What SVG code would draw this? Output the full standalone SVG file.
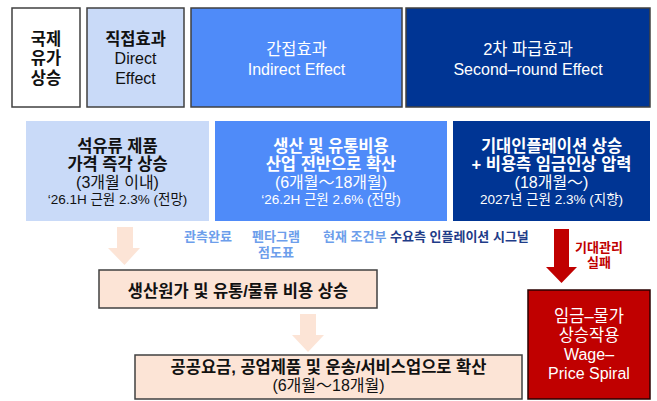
<svg xmlns="http://www.w3.org/2000/svg" width="657" height="401" viewBox="0 0 657 401">
<style>
text{font-family:"Liberation Sans","Noto Sans CJK KR",sans-serif;text-anchor:middle}
.t{font-size:16px}
.h{font-size:16.5px}
.b{font-weight:bold}
.s{font-size:13.5px}
.w{fill:#ffffff}
.k{fill:#111111}
.box{stroke:#404040;stroke-width:1.5}
.lb{font-size:13px;font-weight:bold;fill:#6d9eeb}
.nv{fill:#1f3c88}
.rd{font-size:13px;font-weight:bold;fill:#c00000}
</style>
<rect width="657" height="401" fill="#ffffff"/>
<g id="n-oil">
<rect class="box" x="12" y="8" width="68" height="99" fill="#ffffff"/>
<text class="h b k" x="46" y="45">국제</text>
<text class="h b k" x="46" y="64">유가</text>
<text class="h b k" x="46" y="84">상승</text>
</g>
<g id="n-direct">
<rect class="box" x="87" y="8" width="97" height="99" fill="#c9daf8"/>
<text class="h b k" x="135.5" y="45">직접효과</text>
<text class="t k" x="135.5" y="64">Direct</text>
<text class="t k" x="135.5" y="84">Effect</text>
</g>
<g id="n-indirect">
<rect class="box" x="191" y="8" width="211" height="99" fill="#4f8bf9"/>
<text class="h w" x="296.5" y="55">간접효과</text>
<text class="t w" x="296.5" y="75">Indirect Effect</text>
</g>
<g id="n-second">
<rect class="box" x="406" y="8" width="244" height="99" fill="#003594"/>
<text class="h w" x="528" y="55">2차 파급효과</text>
<text class="t w" x="528" y="75">Second–round Effect</text>
</g>
<g id="n-a">
<rect x="26" y="121" width="183" height="100" fill="#c9daf8"/>
<text class="h b k" x="117.5" y="152">석유류 제품</text>
<text class="h b k" x="117.5" y="170">가격 즉각 상승</text>
<text class="t k" x="117.5" y="188">(3개월 이내)</text>
<text class="s k" x="117.5" y="204">‘26.1H 근원 2.3% (전망)</text>
</g>
<g id="n-b">
<rect x="215" y="121" width="232" height="100" fill="#4f8bf9"/>
<text class="h b w" x="331" y="152">생산 및 유통비용</text>
<text class="h b w" x="331" y="170">산업 전반으로 확산</text>
<text class="t w" x="331" y="188">(6개월～18개월)</text>
<text class="s w" x="331" y="204">‘26.2H 근원 2.6% (전망)</text>
</g>
<g id="n-c">
<rect x="453" y="121" width="197" height="100" fill="#003594"/>
<text class="h b w" x="551.5" y="152">기대인플레이션 상승</text>
<text class="h b w" x="551.5" y="170">+ 비용측 임금인상 압력</text>
<text class="t w" x="551.5" y="188">(18개월～)</text>
<text class="s w" x="551.5" y="204">2027년 근원 2.3% (지향)</text>
</g>
<g id="labels">
<text class="lb" x="208" y="241">관측완료</text>
<text class="lb" x="276" y="241">펜타그램</text>
<text class="lb" x="276" y="257">점도표</text>
<text class="lb" x="323" y="241" style="text-anchor:start">현재 조건부 <tspan class="nv">수요측 인플레이션 시그널</tspan></text>
<text class="rd" x="599" y="252">기대관리</text>
<text class="rd" x="599" y="267">실패</text>
</g>
<g id="connectors">
<polygon points="117,227 133,227 133,248 140,248 124.5,265 108,248 117,248" fill="#fce4d6"/>
<polygon points="300,314 316,314 316,335 324,335 308,352 292,335 300,335" fill="#fce4d6"/>
<polygon points="554,229 569,229 569,267 577,267 561.5,283 546,267 554,267" fill="#c00000"/>
</g>
<g id="n-cost">
<rect class="box" x="99" y="270" width="278" height="38" fill="#fce4d6"/>
<text class="h b k" x="238" y="297">생산원가 및 유통/물류 비용 상승</text>
</g>
<g id="n-spread">
<rect class="box" x="135" y="355" width="387" height="44" fill="#fce4d6"/>
<text class="h b k" x="328.5" y="373">공공요금, 공업제품 및 운송/서비스업으로 확산</text>
<text class="t k" x="328.5" y="391">(6개월～18개월)</text>
</g>
<g id="n-spiral">
<rect x="528" y="290" width="122" height="109" fill="#c00000" stroke="#2a0000" stroke-width="1.5"/>
<text class="h w" x="589" y="322">임금–물가</text>
<text class="h w" x="589" y="341">상승작용</text>
<text class="t w" x="589" y="360">Wage–</text>
<text class="t w" x="589" y="379">Price Spiral</text>
</g>
</svg>
